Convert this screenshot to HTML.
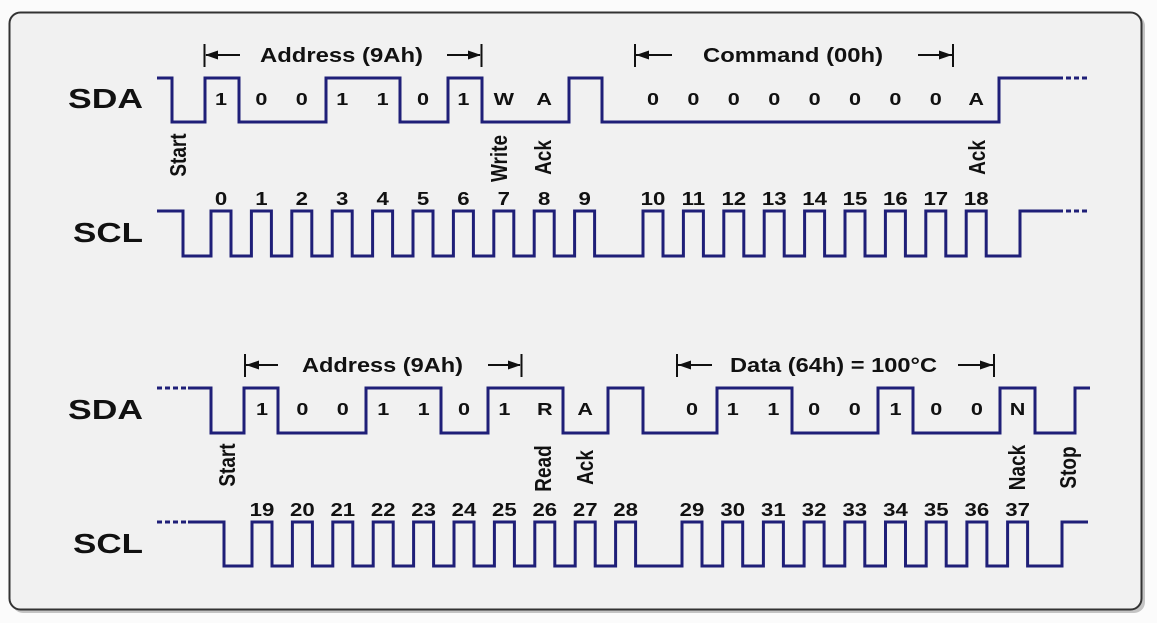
<!DOCTYPE html>
<html><head><meta charset="utf-8"><style>
html,body{margin:0;padding:0;background:#fbfbfb;}
svg{display:block;}
text{font-family:"Liberation Sans",Arial,sans-serif;font-weight:bold;fill:#111;}
.n{font-size:18.5px;text-anchor:middle;}
.b{font-size:18px;text-anchor:middle;}
.r{font-size:19px;text-anchor:middle;}
.s{fill:none;stroke:#1f1f78;stroke-width:3;stroke-linejoin:miter;}
.d{fill:none;stroke:#1f1f78;stroke-width:3;stroke-dasharray:5 3;}
.a{stroke:#111;stroke-width:2;}
</style></head><body>
<svg width="1157" height="623" viewBox="0 0 1157 623" xmlns="http://www.w3.org/2000/svg">
<rect x="12" y="15" width="1133" height="598" rx="11" fill="#c4c4c4"/>
<rect x="9.5" y="12.5" width="1132" height="597" rx="11" fill="#f1f1f1" stroke="#333" stroke-width="2"/>

<!-- labels -->
<text x="68" y="108" font-size="28" textLength="75" lengthAdjust="spacingAndGlyphs">SDA</text>
<text x="73" y="242" font-size="28" textLength="70" lengthAdjust="spacingAndGlyphs">SCL</text>
<text x="68" y="419" font-size="28" textLength="75" lengthAdjust="spacingAndGlyphs">SDA</text>
<text x="73" y="553" font-size="28" textLength="70" lengthAdjust="spacingAndGlyphs">SCL</text>

<!-- brackets top -->
<text x="260" y="62" font-size="20" textLength="163" lengthAdjust="spacingAndGlyphs">Address (9Ah)</text>
<line class="a" x1="204.5" y1="44" x2="204.5" y2="67"/><line class="a" x1="206" y1="55" x2="240" y2="55"/><polygon points="205,55 218,50.5 218,59.5" fill="#111"/>
<line class="a" x1="481.5" y1="44" x2="481.5" y2="67"/><line class="a" x1="447" y1="55" x2="480" y2="55"/><polygon points="481,55 468,50.5 468,59.5" fill="#111"/>

<text x="703" y="62" font-size="20" textLength="180" lengthAdjust="spacingAndGlyphs">Command (00h)</text>
<line class="a" x1="635" y1="44" x2="635" y2="67"/><line class="a" x1="636" y1="55" x2="672" y2="55"/><polygon points="636,55 649,50.5 649,59.5" fill="#111"/>
<line class="a" x1="953" y1="44" x2="953" y2="67"/><line class="a" x1="918" y1="55" x2="952" y2="55"/><polygon points="952,55 939,50.5 939,59.5" fill="#111"/>

<!-- brackets bottom -->
<text x="302" y="372" font-size="20" textLength="161" lengthAdjust="spacingAndGlyphs">Address (9Ah)</text>
<line class="a" x1="245" y1="354" x2="245" y2="377"/><line class="a" x1="246" y1="365" x2="278" y2="365"/><polygon points="246,365 259,360.5 259,369.5" fill="#111"/>
<line class="a" x1="521.5" y1="354" x2="521.5" y2="377"/><line class="a" x1="488" y1="365" x2="520" y2="365"/><polygon points="521,365 508,360.5 508,369.5" fill="#111"/>

<text x="730" y="372" font-size="20" textLength="207" lengthAdjust="spacingAndGlyphs">Data (64h) = 100°C</text>
<line class="a" x1="677" y1="354" x2="677" y2="377"/><line class="a" x1="678" y1="365" x2="712" y2="365"/><polygon points="678,365 691,360.5 691,369.5" fill="#111"/>
<line class="a" x1="994" y1="354" x2="994" y2="377"/><line class="a" x1="958" y1="365" x2="993" y2="365"/><polygon points="993,365 980,360.5 980,369.5" fill="#111"/>

<!-- top SDA -->
<path class="s" d="M157,78 H172 V122 H205 V78 H239 V122 H326 V78 H400 V122 H448 V78 H482 V122 H569 V78 H602 V122 H999 V78 H1058"/>
<path class="d" d="M1058,78 H1090"/>
<!-- top SCL -->
<path class="s" d="M157,211 H183 V256 H211 V211 H231 V256 H251.4 V211 H271.4 V256 H291.8 V211 H311.8 V256 H332.2 V211 H352.2 V256 H372.6 V211 H392.6 V256 H413 V211 H433 V256 H453.4 V211 H473.4 V256 H493.8 V211 H513.8 V256 H534.2 V211 H554.2 V256 H574.6 V211 H594.6 V256 H643 V211 H663 V256 H683.4 V211 H703.4 V256 H723.8 V211 H743.8 V256 H764.2 V211 H784.2 V256 H804.6 V211 H824.6 V256 H845 V211 H865 V256 H885.4 V211 H905.4 V256 H925.8 V211 H945.8 V256 H966.2 V211 H986.2 V256 H1020 V211 H1058"/>
<path class="d" d="M1058,211 H1090"/>

<!-- bottom SDA -->
<path class="d" d="M157,388 H188"/>
<path class="s" d="M188,388 H211 V433 H244 V388 H278 V433 H366 V388 H441 V433 H488 V388 H563 V433 H608 V388 H643 V433 H717 V388 H792 V433 H878 V388 H913 V433 H1000 V388 H1035 V433 H1075 V388 H1090"/>
<!-- bottom SCL -->
<path class="d" d="M157,522 H188"/>
<path class="s" d="M188,522 H224 V566 H252 V522 H272 V566 H292.4 V522 H312.4 V566 H332.8 V522 H352.8 V566 H373.2 V522 H393.2 V566 H413.6 V522 H433.6 V566 H454 V522 H474 V566 H494.4 V522 H514.4 V566 H534.8 V522 H554.8 V566 H575.2 V522 H595.2 V566 H615.6 V522 H635.6 V566 H682 V522 H702 V566 H722.7 V522 H742.7 V566 H763.4 V522 H783.4 V566 H804.1 V522 H824.1 V566 H844.8 V522 H864.8 V566 H885.5 V522 H905.5 V566 H926.2 V522 H946.2 V566 H966.9 V522 H986.9 V566 H1007.6 V522 H1027.6 V566 H1062 V522 H1088"/>

<!-- top bits -->
<text class="b" transform="translate(221,105) scale(1.2,1)">1</text>
<text class="b" transform="translate(261.4,105) scale(1.2,1)">0</text>
<text class="b" transform="translate(301.8,105) scale(1.2,1)">0</text>
<text class="b" transform="translate(342.2,105) scale(1.2,1)">1</text>
<text class="b" transform="translate(382.6,105) scale(1.2,1)">1</text>
<text class="b" transform="translate(423,105) scale(1.2,1)">0</text>
<text class="b" transform="translate(463.4,105) scale(1.2,1)">1</text>
<text class="b" transform="translate(503.8,105) scale(1.2,1)">W</text>
<text class="b" transform="translate(544.2,105) scale(1.2,1)">A</text>
<text class="b" transform="translate(653,105) scale(1.2,1)">0</text>
<text class="b" transform="translate(693.4,105) scale(1.2,1)">0</text>
<text class="b" transform="translate(733.8,105) scale(1.2,1)">0</text>
<text class="b" transform="translate(774.2,105) scale(1.2,1)">0</text>
<text class="b" transform="translate(814.6,105) scale(1.2,1)">0</text>
<text class="b" transform="translate(855,105) scale(1.2,1)">0</text>
<text class="b" transform="translate(895.4,105) scale(1.2,1)">0</text>
<text class="b" transform="translate(935.8,105) scale(1.2,1)">0</text>
<text class="b" transform="translate(976.2,105) scale(1.2,1)">A</text>

<!-- top numbers -->
<text class="n" transform="translate(221,205) scale(1.2,1)">0</text>
<text class="n" transform="translate(261.4,205) scale(1.2,1)">1</text>
<text class="n" transform="translate(301.8,205) scale(1.2,1)">2</text>
<text class="n" transform="translate(342.2,205) scale(1.2,1)">3</text>
<text class="n" transform="translate(382.6,205) scale(1.2,1)">4</text>
<text class="n" transform="translate(423,205) scale(1.2,1)">5</text>
<text class="n" transform="translate(463.4,205) scale(1.2,1)">6</text>
<text class="n" transform="translate(503.8,205) scale(1.2,1)">7</text>
<text class="n" transform="translate(544.2,205) scale(1.2,1)">8</text>
<text class="n" transform="translate(584.6,205) scale(1.2,1)">9</text>
<text class="n" transform="translate(653,205) scale(1.2,1)">10</text>
<text class="n" transform="translate(693.4,205) scale(1.2,1)">11</text>
<text class="n" transform="translate(733.8,205) scale(1.2,1)">12</text>
<text class="n" transform="translate(774.2,205) scale(1.2,1)">13</text>
<text class="n" transform="translate(814.6,205) scale(1.2,1)">14</text>
<text class="n" transform="translate(855,205) scale(1.2,1)">15</text>
<text class="n" transform="translate(895.4,205) scale(1.2,1)">16</text>
<text class="n" transform="translate(935.8,205) scale(1.2,1)">17</text>
<text class="n" transform="translate(976.2,205) scale(1.2,1)">18</text>

<!-- bottom bits -->
<text class="b" transform="translate(262,415) scale(1.2,1)">1</text>
<text class="b" transform="translate(302.4,415) scale(1.2,1)">0</text>
<text class="b" transform="translate(342.8,415) scale(1.2,1)">0</text>
<text class="b" transform="translate(383.2,415) scale(1.2,1)">1</text>
<text class="b" transform="translate(423.6,415) scale(1.2,1)">1</text>
<text class="b" transform="translate(464,415) scale(1.2,1)">0</text>
<text class="b" transform="translate(504.4,415) scale(1.2,1)">1</text>
<text class="b" transform="translate(544.8,415) scale(1.2,1)">R</text>
<text class="b" transform="translate(585.2,415) scale(1.2,1)">A</text>
<text class="b" transform="translate(692,415) scale(1.2,1)">0</text>
<text class="b" transform="translate(732.7,415) scale(1.2,1)">1</text>
<text class="b" transform="translate(773.4,415) scale(1.2,1)">1</text>
<text class="b" transform="translate(814.1,415) scale(1.2,1)">0</text>
<text class="b" transform="translate(854.8,415) scale(1.2,1)">0</text>
<text class="b" transform="translate(895.5,415) scale(1.2,1)">1</text>
<text class="b" transform="translate(936.2,415) scale(1.2,1)">0</text>
<text class="b" transform="translate(976.9,415) scale(1.2,1)">0</text>
<text class="b" transform="translate(1017.6,415) scale(1.2,1)">N</text>

<!-- bottom numbers -->
<text class="n" transform="translate(262,516) scale(1.2,1)">19</text>
<text class="n" transform="translate(302.4,516) scale(1.2,1)">20</text>
<text class="n" transform="translate(342.8,516) scale(1.2,1)">21</text>
<text class="n" transform="translate(383.2,516) scale(1.2,1)">22</text>
<text class="n" transform="translate(423.6,516) scale(1.2,1)">23</text>
<text class="n" transform="translate(464,516) scale(1.2,1)">24</text>
<text class="n" transform="translate(504.4,516) scale(1.2,1)">25</text>
<text class="n" transform="translate(544.8,516) scale(1.2,1)">26</text>
<text class="n" transform="translate(585.2,516) scale(1.2,1)">27</text>
<text class="n" transform="translate(625.6,516) scale(1.2,1)">28</text>
<text class="n" transform="translate(692,516) scale(1.2,1)">29</text>
<text class="n" transform="translate(732.7,516) scale(1.2,1)">30</text>
<text class="n" transform="translate(773.4,516) scale(1.2,1)">31</text>
<text class="n" transform="translate(814.1,516) scale(1.2,1)">32</text>
<text class="n" transform="translate(854.8,516) scale(1.2,1)">33</text>
<text class="n" transform="translate(895.5,516) scale(1.2,1)">34</text>
<text class="n" transform="translate(936.2,516) scale(1.2,1)">35</text>
<text class="n" transform="translate(976.9,516) scale(1.2,1)">36</text>
<text class="n" transform="translate(1017.6,516) scale(1.2,1)">37</text>

<!-- rotated labels -->
<text class="r" transform="translate(186,155) scale(1.2,1) rotate(-90)">Start</text>
<text class="r" transform="translate(507,158.5) scale(1.2,1) rotate(-90)">Write</text>
<text class="r" transform="translate(551,157.5) scale(1.2,1) rotate(-90)">Ack</text>
<text class="r" transform="translate(985,157.5) scale(1.2,1) rotate(-90)">Ack</text>
<text class="r" transform="translate(235,465) scale(1.2,1) rotate(-90)">Start</text>
<text class="r" transform="translate(551,468.5) scale(1.2,1) rotate(-90)">Read</text>
<text class="r" transform="translate(593,467.5) scale(1.2,1) rotate(-90)">Ack</text>
<text class="r" transform="translate(1025,467.5) scale(1.2,1) rotate(-90)">Nack</text>
<text class="r" transform="translate(1076,467.5) scale(1.2,1) rotate(-90)">Stop</text>
</svg>
</body></html>
